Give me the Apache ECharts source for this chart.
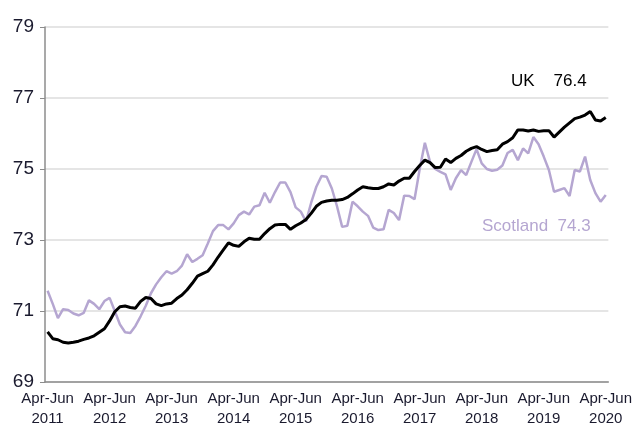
<!DOCTYPE html>
<html>
<head>
<meta charset="utf-8">
<script src="https://cdn.jsdelivr.net/npm/echarts@6/dist/echarts.min.js"></script>
<style>
  html, body { margin: 0; padding: 0; background: #fff; }
  #chart { width: 635px; height: 436px; }
</style>
</head>
<body>
<div id="chart"></div>
<script>
// rolling three-month periods, Apr-Jun 2011 to Apr-Jun 2020
const periods = ['Apr-Jun', 'May-Jul', 'Jun-Aug', 'Jul-Sep', 'Aug-Oct', 'Sep-Nov',
  'Oct-Dec', 'Nov-Jan', 'Dec-Feb', 'Jan-Mar', 'Feb-Apr', 'Mar-May'];
const firstYear = 2011;
const lastYear = 2020;

const uk = [
  70.41, 70.22, 70.19, 70.12, 70.10, 70.12, 70.15, 70.20, 70.24, 70.30, 70.40, 70.50,
  70.72, 70.98, 71.12, 71.14, 71.10, 71.08, 71.27, 71.38, 71.35, 71.20, 71.15, 71.20,
  71.22, 71.35, 71.45, 71.60, 71.78, 71.98, 72.05, 72.12, 72.30, 72.52, 72.72, 72.92,
  72.85, 72.82, 72.95, 73.05, 73.02, 73.02, 73.18, 73.32, 73.42, 73.44, 73.44, 73.30,
  73.40, 73.48, 73.58, 73.75, 73.95, 74.06, 74.10, 74.12, 74.12, 74.14, 74.20, 74.30,
  74.41, 74.50, 74.47, 74.45, 74.45, 74.50, 74.58, 74.55, 74.66, 74.74, 74.74, 74.93,
  75.10, 75.25, 75.18, 75.04, 75.05, 75.28, 75.18, 75.30, 75.38, 75.50, 75.58, 75.63,
  75.55, 75.49, 75.52, 75.54, 75.70, 75.77, 75.88, 76.10, 76.10, 76.07, 76.10, 76.06,
  76.08, 76.08, 75.90, 76.04, 76.18, 76.30, 76.42, 76.46, 76.52, 76.62, 76.38, 76.35,
  76.45
];

const scotland = [
  71.57, 71.20, 70.80, 71.05, 71.03, 70.93, 70.88, 70.95, 71.30, 71.20, 71.05, 71.28,
  71.37, 71.00, 70.62, 70.40, 70.38, 70.58, 70.85, 71.15, 71.50, 71.75, 71.95, 72.12,
  72.05, 72.12, 72.28, 72.60, 72.38, 72.47, 72.57, 72.90, 73.25, 73.42, 73.42, 73.30,
  73.47, 73.70, 73.80, 73.72, 73.94, 73.98, 74.33, 74.05, 74.35, 74.62, 74.62, 74.35,
  73.92, 73.80, 73.52, 74.05, 74.50, 74.80, 74.78, 74.45, 73.95, 73.37, 73.40, 74.08,
  73.95, 73.80, 73.68, 73.35, 73.28, 73.30, 73.85, 73.76, 73.56, 74.25, 74.24, 74.15,
  75.00, 75.74, 75.20, 75.00, 74.92, 74.85, 74.41, 74.74, 74.97, 74.83, 75.20, 75.56,
  75.16, 75.00, 74.95, 74.98, 75.10, 75.45, 75.54, 75.25, 75.58, 75.44, 75.90, 75.70,
  75.35, 74.97, 74.36, 74.41, 74.46, 74.24, 74.97, 74.93, 75.35, 74.69, 74.32, 74.08,
  74.27
];

const yTicks = { min: 69, max: 79, step: 2 };

// category names like "Apr-Jun 2011"
const categories = [];
for (let y = firstYear; y <= lastYear; y++) {
  periods.forEach((p, k) => {
    if (y === lastYear && k > 0) return;
    categories.push(p + ' ' + y);
  });
}

const chart = echarts.init(document.getElementById('chart'));

const option = {
  animation: false,
  grid: { left: 45, right: 24, top: 27, bottom: 54 },
  xAxis: {
    type: 'category',
    data: categories,
    boundaryGap: true,
    axisLine: { lineStyle: { color: '#8c8c8c', width: 1.5 } },
    axisTick: { interval: 0, length: 6, lineStyle: { color: '#8c8c8c' } },
    axisLabel: {
      interval: 11,
      color: '#1a1a2e',
      fontFamily: 'Liberation Sans, Arial, sans-serif',
      fontSize: 15,
      lineHeight: 20,
      margin: 7,
      formatter: v => v.replace(' ', '\n')
    },
    splitLine: { show: false }
  },
  yAxis: {
    type: 'value',
    min: yTicks.min,
    max: yTicks.max,
    interval: yTicks.step,
    axisLine: { show: true, lineStyle: { color: '#8c8c8c', width: 1.5 } },
    axisTick: { show: true, length: 5, lineStyle: { color: '#8c8c8c' } },
    axisLabel: {
      color: '#1a1a2e',
      fontFamily: 'Liberation Sans, Arial, sans-serif',
      fontSize: 19,
      margin: 11
    },
    splitLine: { lineStyle: { color: '#dcdcdc', width: 1.5 } }
  },
  series: [
    {
      name: 'Scotland',
      type: 'line',
      data: scotland,
      symbol: 'none',
      lineStyle: { color: '#b5a6d1', width: 2.5 },
      z: 2
    },
    {
      name: 'UK',
      type: 'line',
      data: uk,
      symbol: 'none',
      lineStyle: { color: '#000000', width: 3 },
      z: 3
    }
  ],
  graphic: [
    {
      type: 'text', left: 511, top: 73,
      style: { text: 'UK    76.4', fill: '#000', font: '17px Liberation Sans, Arial, sans-serif' }
    },
    {
      type: 'text', left: 482, top: 218,
      style: { text: 'Scotland  74.3', fill: '#b5a6d1', font: '17px Liberation Sans, Arial, sans-serif' }
    }
  ]
};

chart.setOption(option);
</script>
</body>
</html>
